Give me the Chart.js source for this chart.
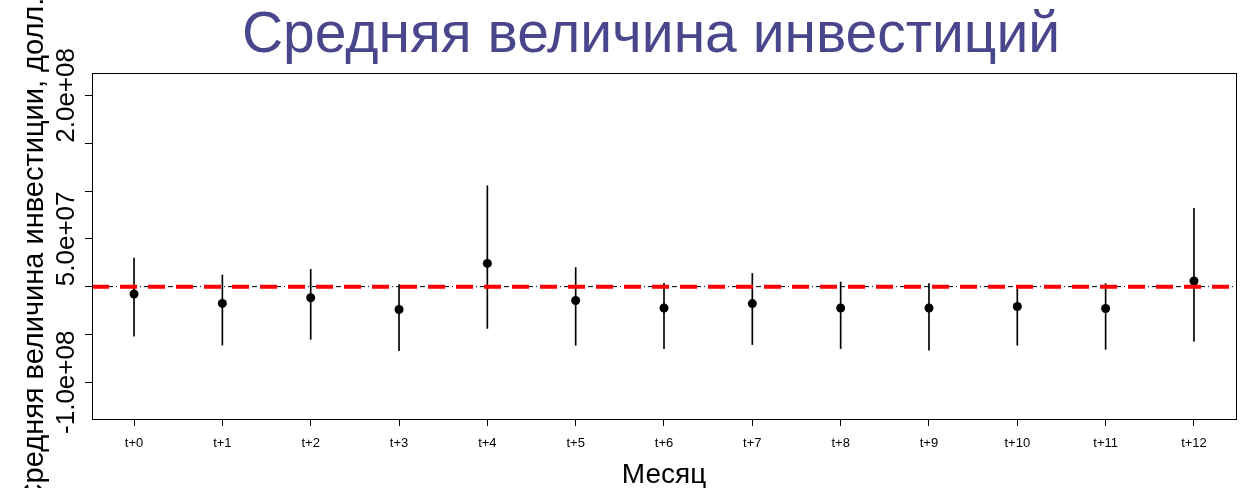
<!DOCTYPE html>
<html>
<head>
<meta charset="utf-8">
<title>Средняя величина инвестиций</title>
<script src="https://cdn.jsdelivr.net/npm/chart.js@4/dist/chart.umd.min.js"></script>
<style>
  html, body { margin: 0; padding: 0; background: #ffffff; }
  #wrap { width: 1247px; height: 488px; }
</style>
</head>
<body>
<div id="wrap"><canvas id="investChart" width="1247" height="488"></canvas></div>
<script>
// Data (dollars)
var months = ['t+0', 't+1', 't+2', 't+3', 't+4', 't+5', 't+6', 't+7', 't+8', 't+9', 't+10', 't+11', 't+12'];
var meanValues = [-7.7e6, -17.5e6, -11.6e6, -23.9e6, 24.3e6, -14.5e6, -22.3e6, -17.7e6, -22.3e6, -22.3e6, -20.8e6, -22.9e6, 5.9e6];
var upperValues = [29.9e6, 12.1e6, 18.1e6, 2.1e6, 105.5e6, 20.0e6, 3.5e6, 13.7e6, 4.8e6, 3.1e6, 0.6e6, 3.1e6, 81.9e6];
var lowerValues = [-51.7e6, -61.1e6, -55.1e6, -66.9e6, -43.7e6, -61.3e6, -64.8e6, -60.6e6, -64.8e6, -66.3e6, -61.3e6, -65.6e6, -56.9e6];
var referenceLevel = 0;
var yTickValues = [-1e8, -5e7, 0, 5e7, 1e8, 1.5e8, 2e8];
var yTickLabels = ['-1.0e+08', '', '', '5.0e+07', '', '', '2.0e+08'];

(function() {
    'use strict';

    var FONT = '"Liberation Sans", Arial, Helvetica, sans-serif';
    var titleColor = '#4a468c';

    // Texts, box, y tick labels and the reference lines
    var decorPlugin = {
        id: 'decor',
        afterDatasetsDraw: function(chart) {
            var ctx = chart.ctx;
            var area = chart.chartArea;
            var yScale = chart.scales.y;
            var yRef = yScale.getPixelForValue(referenceLevel);

            ctx.save();
            // black dot-dash line, then the red dashed line on top
            ctx.beginPath();
            ctx.rect(area.left, area.top, area.right - area.left, area.bottom - area.top);
            ctx.clip();
            ctx.strokeStyle = '#000000';
            ctx.lineWidth = 1;
            ctx.setLineDash([1, 3, 5, 3]);
            ctx.beginPath();
            ctx.moveTo(area.left, yRef);
            ctx.lineTo(area.right, yRef);
            ctx.stroke();

            ctx.strokeStyle = '#ff0000';
            ctx.lineWidth = 4;
            ctx.setLineDash([17, 11]);
            ctx.beginPath();
            ctx.moveTo(area.left, yRef);
            ctx.lineTo(area.right, yRef);
            ctx.stroke();
            ctx.restore();

            ctx.save();
            ctx.setLineDash([]);
            ctx.strokeStyle = '#000000';
            ctx.lineWidth = 1;
            ctx.strokeRect(Math.round(area.left) + 0.5, Math.round(area.top) + 0.5,
                Math.round(area.right - area.left), Math.round(area.bottom - area.top));

            // main title
            ctx.fillStyle = titleColor;
            ctx.font = '57px ' + FONT;
            ctx.textAlign = 'center';
            ctx.textBaseline = 'alphabetic';
            ctx.fillText('Средняя величина инвестиций', 651, 52);

            // x axis title
            ctx.fillStyle = '#000000';
            ctx.font = '28px ' + FONT;
            ctx.fillText('Месяц', 664, 483);

            // y tick labels, rotated
            ctx.font = '26px ' + FONT;
            yTickValues.forEach(function(v, i) {
                if (!yTickLabels[i]) return;
                var py = yScale.getPixelForValue(v);
                ctx.save();
                ctx.translate(74, py);
                ctx.rotate(-Math.PI / 2);
                ctx.fillText(yTickLabels[i], 0, 0);
                ctx.restore();
            });

            // y axis title
            ctx.font = '29px ' + FONT;
            ctx.save();
            ctx.translate(43, 251);
            ctx.rotate(-Math.PI / 2);
            ctx.fillText('Средняя величина инвестиции, долл.', 0, 0);
            ctx.restore();
            ctx.restore();
        }
    };

    var barData = months.map(function(m, i) {
        return { x: i, y: [lowerValues[i], upperValues[i]] };
    });
    var pointData = months.map(function(m, i) {
        return { x: i, y: meanValues[i] };
    });

    new Chart(document.getElementById('investChart'), {
        type: 'bar',
        data: {
            datasets: [{
                type: 'bar',
                data: barData,
                backgroundColor: '#000000',
                borderWidth: 0,
                barThickness: 1,
                grouped: false,
                order: 2
            }, {
                type: 'scatter',
                data: pointData,
                pointRadius: 4.5,
                pointHoverRadius: 4.5,
                pointBackgroundColor: '#000000',
                pointBorderColor: '#000000',
                pointBorderWidth: 0,
                showLine: false,
                order: 1
            }]
        },
        options: {
            responsive: false,
            animation: false,
            events: [],
            layout: { padding: { top: 73, right: 11, left: 0, bottom: 0 } },
            plugins: {
                legend: { display: false },
                title: { display: false },
                tooltip: { enabled: false }
            },
            scales: {
                x: {
                    type: 'linear',
                    offset: false,
                    min: -0.476,
                    max: 12.476,
                    afterBuildTicks: function(scale) {
                        scale.ticks = months.map(function(m, i) { return { value: i }; });
                    },
                    afterFit: function(scale) { scale.height = 69; },
                    ticks: {
                        color: '#000000',
                        padding: 10,
                        maxRotation: 0,
                        autoSkip: false,
                        font: { family: FONT, size: 13 },
                        callback: function(value) { return months[value]; }
                    },
                    grid: {
                        offset: false,
                        drawOnChartArea: false,
                        drawTicks: true,
                        tickLength: 7,
                        color: '#000000'
                    },
                    border: { display: true, color: '#000000' }
                },
                y: {
                    min: -138.4e6,
                    max: 223.4e6,
                    afterBuildTicks: function(scale) {
                        scale.ticks = yTickValues.map(function(v) { return { value: v }; });
                    },
                    afterFit: function(scale) { scale.width = 92; },
                    ticks: { display: false },
                    grid: {
                        drawOnChartArea: false,
                        drawTicks: true,
                        tickLength: 7,
                        color: '#000000'
                    },
                    border: { display: true, color: '#000000' }
                }
            }
        },
        plugins: [decorPlugin]
    });
})();
</script>
</body>
</html>
